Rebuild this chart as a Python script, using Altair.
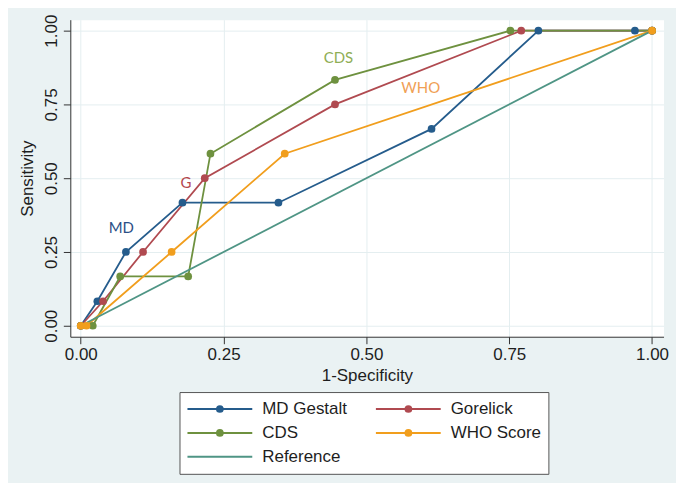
import altair as alt
import pandas as pd

series_order = ["MD Gestalt", "Gorelick", "CDS", "WHO Score", "Reference"]
series_colors = ["#255c8c", "#b04a50", "#6e913f", "#f19e1d", "#4f9585"]

md_x = [0.0, 0.029, 0.079, 0.178, 0.346, 0.614, 0.801, 0.970, 1.0]
md_y = [0.0, 0.083, 0.25, 0.417, 0.417, 0.667, 1.0, 1.0, 1.0]
gor_x = [0.0, 0.039, 0.109, 0.217, 0.445, 0.771, 1.0]
gor_y = [0.0, 0.083, 0.25, 0.5, 0.75, 1.0, 1.0]
cds_x = [0.0, 0.021, 0.069, 0.188, 0.227, 0.445, 0.752, 1.0]
cds_y = [0.0, 0.0, 0.167, 0.167, 0.583, 0.833, 1.0, 1.0]
who_x = [0.0, 0.01, 0.159, 0.357, 1.0]
who_y = [0.0, 0.0, 0.25, 0.583, 1.0]
ref_x = [0.0, 1.0]
ref_y = [0.0, 1.0]

ann_text = ["MD", "G", "CDS", "WHO"]
ann_x = [0.071, 0.184, 0.451, 0.595]
ann_y = [0.332, 0.484, 0.908, 0.805]
ann_color = ["#2b4f86", "#b5484e", "#8fae55", "#f0a055"]

tick_vals = [0.0, 0.25, 0.5, 0.75, 1.0]

rows = []
for name, xs, ys in [("MD Gestalt", md_x, md_y), ("Gorelick", gor_x, gor_y),
                     ("CDS", cds_x, cds_y), ("WHO Score", who_x, who_y),
                     ("Reference", ref_x, ref_y)]:
    for i, (xv, yv) in enumerate(zip(xs, ys)):
        rows.append({"series": name, "x": xv, "y": yv, "idx": i})
df = pd.DataFrame(rows)
pts = df[df["series"] != "Reference"]
ann = pd.DataFrame({"label": ann_text, "x": ann_x, "y": ann_y, "c": ann_color})

FONT = "Liberation Sans"
xscale = alt.Scale(domain=[-0.01832, 1.0201], nice=False, zero=False)
yscale = alt.Scale(domain=[-0.0372, 1.0372], nice=False, zero=False)

xaxis = alt.Axis(values=tick_vals, format=".2f", title="1-Specificity",
                 labelFont=FONT, labelFontSize=17, labelColor="#1e1e1e", labelPadding=3,
                 titleFont=FONT, titleFontSize=17, titleFontWeight="normal", titleColor="#1e1e1e",
                 titleY=44, titleBaseline="alphabetic",
                 domainColor="#333", tickColor="#333", tickSize=7,
                 grid=True, gridColor="#e4eef0")
yaxis = alt.Axis(values=tick_vals, format=".2f", title="Sensitivity",
                 labelFont=FONT, labelFontSize=17, labelColor="#1e1e1e", labelPadding=7,
                 labelAngle=270, labelAlign="center", labelBaseline="alphabetic",
                 titleFont=FONT, titleFontSize=17, titleFontWeight="normal", titleColor="#1e1e1e",
                 titleAngle=270, titleBaseline="alphabetic", titleX=-38, titleY=159,
                 domainColor="#333", tickColor="#333", tickSize=7,
                 grid=True, gridColor="#e4eef0")

LX, LY = 109.5, 373.5
line_legend = alt.Legend(orient="none", legendX=LX, legendY=LY, columns=2, direction="horizontal",
                         title=None,
                         symbolType="stroke", symbolSize=4225, symbolStrokeWidth=2,
                         labelFont=FONT, labelFontSize=17, labelColor="#1e1e1e",
                         labelOffset=9, clipHeight=20, rowPadding=4, columnPadding=27,
                         padding=7, strokeColor="#555", fillColor="white", labelLimit=300,
                         labelExpr="datum.label == 'WHO Score' ? 'WHO Score ' : datum.label")
point_legend = alt.Legend(orient="none", legendX=LX, legendY=LY, columns=2, direction="horizontal",
                          title=None,
                          symbolType="circle", symbolSize=60, symbolStrokeWidth=0,
                          symbolOpacity=1, symbolOffset=25,
                          labelFont=FONT, labelFontSize=17, labelExpr="''",
                          labelOffset=59, clipHeight=20, rowPadding=4, columnPadding=88.1,
                          padding=7)

lines = alt.Chart(df).mark_line(strokeWidth=1.8).encode(
    x=alt.X("x:Q", scale=xscale, axis=xaxis),
    y=alt.Y("y:Q", scale=yscale, axis=yaxis),
    color=alt.Color("series:N", scale=alt.Scale(domain=series_order, range=series_colors),
                    legend=line_legend),
    order=alt.Order("idx:Q"),
)

points = alt.Chart(pts).mark_circle(size=60, opacity=1).encode(
    x=alt.X("x:Q", scale=xscale),
    y=alt.Y("y:Q", scale=yscale),
    fill=alt.Fill("series:N",
                  scale=alt.Scale(domain=series_order[:4], range=series_colors[:4]),
                  legend=point_legend),
)

texts = []
for lab, col in zip(ann_text, ann_color):
    texts.append(
        alt.Chart(ann[ann["label"] == lab]).mark_text(font="Lato", fontSize=15, color=col).encode(
            x=alt.X("x:Q", scale=xscale),
            y=alt.Y("y:Q", scale=yscale),
            text="label:N",
        )
    )

chart = alt.layer(lines, points, *texts).properties(
    width=595, height=318,
    autosize=alt.AutoSizeParams(type="none"),
    padding={"left": 62.5, "top": 11, "right": 12.5, "bottom": 146},
    background="#eaf2f3",
).configure_view(fill="white", stroke="transparent")

chart.save("out.html", embed_options={"renderer": "svg", "actions": False})
